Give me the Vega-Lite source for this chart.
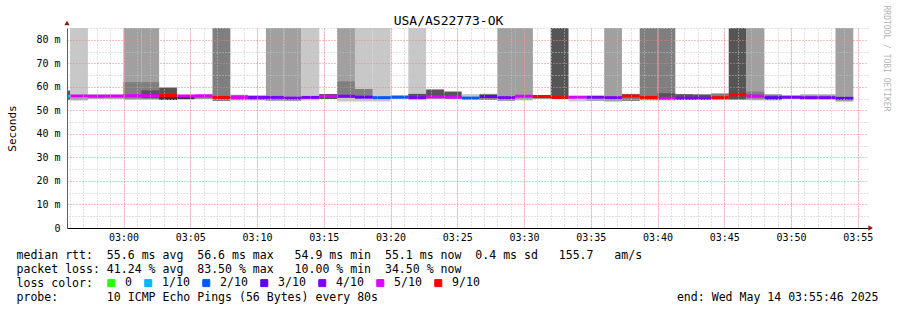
{
  "$schema": "https://vega.github.io/schema/vega-lite/v6.json",
  "width": 801,
  "height": 200,
  "autosize": {"type": "none"},
  "padding": {"left": 67, "top": 28, "right": 29, "bottom": 82},
  "background": "white",
  "config": {"view": {"stroke": null}},
  "datasets": {
    "steps": [
      {"t0":"2025-05-14T02:54:40","t1":"2025-05-14T02:56:00","med":56.0,"loss":"1/10"},
      {"t0":"2025-05-14T02:56:00","t1":"2025-05-14T02:57:20","med":56.1,"loss":"5/10"},
      {"t0":"2025-05-14T02:57:20","t1":"2025-05-14T02:58:40","med":56.0,"loss":"5/10"},
      {"t0":"2025-05-14T02:58:40","t1":"2025-05-14T03:00:00","med":56.1,"loss":"5/10"},
      {"t0":"2025-05-14T03:00:00","t1":"2025-05-14T03:01:20","med":56.2,"loss":"5/10"},
      {"t0":"2025-05-14T03:01:20","t1":"2025-05-14T03:02:40","med":56.2,"loss":"5/10"},
      {"t0":"2025-05-14T03:02:40","t1":"2025-05-14T03:04:00","med":56.3,"loss":"9/10"},
      {"t0":"2025-05-14T03:04:00","t1":"2025-05-14T03:05:20","med":56.1,"loss":"5/10"},
      {"t0":"2025-05-14T03:05:20","t1":"2025-05-14T03:06:40","med":56.2,"loss":"5/10"},
      {"t0":"2025-05-14T03:06:40","t1":"2025-05-14T03:08:00","med":55.5,"loss":"9/10"},
      {"t0":"2025-05-14T03:08:00","t1":"2025-05-14T03:09:20","med":55.5,"loss":"5/10"},
      {"t0":"2025-05-14T03:09:20","t1":"2025-05-14T03:10:40","med":55.5,"loss":"4/10"},
      {"t0":"2025-05-14T03:10:40","t1":"2025-05-14T03:12:00","med":55.5,"loss":"4/10"},
      {"t0":"2025-05-14T03:12:00","t1":"2025-05-14T03:13:20","med":55.2,"loss":"4/10"},
      {"t0":"2025-05-14T03:13:20","t1":"2025-05-14T03:14:40","med":55.5,"loss":"4/10"},
      {"t0":"2025-05-14T03:14:40","t1":"2025-05-14T03:16:00","med":56.0,"loss":"5/10"},
      {"t0":"2025-05-14T03:16:00","t1":"2025-05-14T03:17:20","med":56.0,"loss":"4/10"},
      {"t0":"2025-05-14T03:17:20","t1":"2025-05-14T03:18:40","med":55.6,"loss":"3/10"},
      {"t0":"2025-05-14T03:18:40","t1":"2025-05-14T03:20:00","med":55.4,"loss":"2/10"},
      {"t0":"2025-05-14T03:20:00","t1":"2025-05-14T03:21:20","med":55.6,"loss":"2/10"},
      {"t0":"2025-05-14T03:21:20","t1":"2025-05-14T03:22:40","med":55.4,"loss":"4/10"},
      {"t0":"2025-05-14T03:22:40","t1":"2025-05-14T03:24:00","med":55.8,"loss":"5/10"},
      {"t0":"2025-05-14T03:24:00","t1":"2025-05-14T03:25:20","med":55.6,"loss":"5/10"},
      {"t0":"2025-05-14T03:25:20","t1":"2025-05-14T03:26:40","med":55.2,"loss":"2/10"},
      {"t0":"2025-05-14T03:26:40","t1":"2025-05-14T03:28:00","med":55.9,"loss":"3/10"},
      {"t0":"2025-05-14T03:28:00","t1":"2025-05-14T03:29:20","med":55.4,"loss":"4/10"},
      {"t0":"2025-05-14T03:29:20","t1":"2025-05-14T03:30:40","med":56.0,"loss":"5/10"},
      {"t0":"2025-05-14T03:30:40","t1":"2025-05-14T03:32:00","med":55.9,"loss":"9/10"},
      {"t0":"2025-05-14T03:32:00","t1":"2025-05-14T03:33:20","med":55.5,"loss":"9/10"},
      {"t0":"2025-05-14T03:33:20","t1":"2025-05-14T03:34:40","med":55.6,"loss":"5/10"},
      {"t0":"2025-05-14T03:34:40","t1":"2025-05-14T03:36:00","med":55.6,"loss":"4/10"},
      {"t0":"2025-05-14T03:36:00","t1":"2025-05-14T03:37:20","med":55.4,"loss":"4/10"},
      {"t0":"2025-05-14T03:37:20","t1":"2025-05-14T03:38:40","med":56.1,"loss":"9/10"},
      {"t0":"2025-05-14T03:38:40","t1":"2025-05-14T03:40:00","med":55.5,"loss":"9/10"},
      {"t0":"2025-05-14T03:40:00","t1":"2025-05-14T03:41:20","med":55.1,"loss":"5/10"},
      {"t0":"2025-05-14T03:41:20","t1":"2025-05-14T03:42:40","med":55.2,"loss":"4/10"},
      {"t0":"2025-05-14T03:42:40","t1":"2025-05-14T03:44:00","med":55.2,"loss":"4/10"},
      {"t0":"2025-05-14T03:44:00","t1":"2025-05-14T03:45:20","med":55.4,"loss":"9/10"},
      {"t0":"2025-05-14T03:45:20","t1":"2025-05-14T03:46:40","med":56.6,"loss":"9/10"},
      {"t0":"2025-05-14T03:46:40","t1":"2025-05-14T03:48:00","med":56.1,"loss":"5/10"},
      {"t0":"2025-05-14T03:48:00","t1":"2025-05-14T03:49:20","med":55.4,"loss":"3/10"},
      {"t0":"2025-05-14T03:49:20","t1":"2025-05-14T03:50:40","med":55.6,"loss":"4/10"},
      {"t0":"2025-05-14T03:50:40","t1":"2025-05-14T03:52:00","med":55.4,"loss":"4/10"},
      {"t0":"2025-05-14T03:52:00","t1":"2025-05-14T03:53:20","med":55.4,"loss":"4/10"},
      {"t0":"2025-05-14T03:53:20","t1":"2025-05-14T03:54:40","med":55.1,"loss":"3/10"}
    ],
    "smoke": [
      {"t0":"2025-05-14T02:54:40","t1":"2025-05-14T02:56:00","lo":54.5,"hi":58.4,"lvl":"4"},
      {"t0":"2025-05-14T02:56:00","t1":"2025-05-14T02:57:20","lo":54.3,"hi":85,"lvl":"1"},
      {"t0":"2025-05-14T02:56:00","t1":"2025-05-14T02:57:20","lo":54.3,"hi":55.3,"lvl":"2"},
      {"t0":"2025-05-14T02:57:20","t1":"2025-05-14T02:58:40","lo":54.9,"hi":56.8,"lvl":"2"},
      {"t0":"2025-05-14T02:58:40","t1":"2025-05-14T03:00:00","lo":54.9,"hi":56.6,"lvl":"2"},
      {"t0":"2025-05-14T03:00:00","t1":"2025-05-14T03:01:20","lo":54.5,"hi":85,"lvl":"2"},
      {"t0":"2025-05-14T03:00:00","t1":"2025-05-14T03:01:20","lo":55.0,"hi":62.0,"lvl":"3"},
      {"t0":"2025-05-14T03:01:20","t1":"2025-05-14T03:02:40","lo":54.5,"hi":85,"lvl":"2"},
      {"t0":"2025-05-14T03:01:20","t1":"2025-05-14T03:02:40","lo":55.0,"hi":62.0,"lvl":"3"},
      {"t0":"2025-05-14T03:01:20","t1":"2025-05-14T03:02:40","lo":55.2,"hi":58.5,"lvl":"4"},
      {"t0":"2025-05-14T03:02:40","t1":"2025-05-14T03:04:00","lo":54.4,"hi":59.7,"lvl":"4"},
      {"t0":"2025-05-14T03:02:40","t1":"2025-05-14T03:04:00","lo":54.4,"hi":55.6,"lvl":"5"},
      {"t0":"2025-05-14T03:04:00","t1":"2025-05-14T03:05:20","lo":54.7,"hi":56.4,"lvl":"5"},
      {"t0":"2025-05-14T03:05:20","t1":"2025-05-14T03:06:40","lo":54.9,"hi":56.5,"lvl":"3"},
      {"t0":"2025-05-14T03:06:40","t1":"2025-05-14T03:08:00","lo":54.0,"hi":85,"lvl":"3"},
      {"t0":"2025-05-14T03:08:00","t1":"2025-05-14T03:09:20","lo":54.3,"hi":56.6,"lvl":"3"},
      {"t0":"2025-05-14T03:09:20","t1":"2025-05-14T03:10:40","lo":54.3,"hi":56.3,"lvl":"3"},
      {"t0":"2025-05-14T03:10:40","t1":"2025-05-14T03:12:00","lo":54.2,"hi":85,"lvl":"2"},
      {"t0":"2025-05-14T03:10:40","t1":"2025-05-14T03:12:00","lo":54.2,"hi":55.0,"lvl":"3"},
      {"t0":"2025-05-14T03:12:00","t1":"2025-05-14T03:13:20","lo":54.0,"hi":85,"lvl":"2"},
      {"t0":"2025-05-14T03:13:20","t1":"2025-05-14T03:14:40","lo":54.2,"hi":85,"lvl":"1"},
      {"t0":"2025-05-14T03:14:40","t1":"2025-05-14T03:16:00","lo":54.8,"hi":57.0,"lvl":"4"},
      {"t0":"2025-05-14T03:16:00","t1":"2025-05-14T03:17:20","lo":53.8,"hi":85,"lvl":"1"},
      {"t0":"2025-05-14T03:16:00","t1":"2025-05-14T03:17:20","lo":55.3,"hi":85,"lvl":"2"},
      {"t0":"2025-05-14T03:16:00","t1":"2025-05-14T03:17:20","lo":55.3,"hi":62.3,"lvl":"3"},
      {"t0":"2025-05-14T03:17:20","t1":"2025-05-14T03:18:40","lo":53.8,"hi":85,"lvl":"1"},
      {"t0":"2025-05-14T03:17:20","t1":"2025-05-14T03:18:40","lo":55.3,"hi":59.1,"lvl":"3"},
      {"t0":"2025-05-14T03:18:40","t1":"2025-05-14T03:20:00","lo":53.8,"hi":85,"lvl":"1"},
      {"t0":"2025-05-14T03:20:00","t1":"2025-05-14T03:21:20","lo":55.0,"hi":56.3,"lvl":"2"},
      {"t0":"2025-05-14T03:21:20","t1":"2025-05-14T03:22:40","lo":54.3,"hi":85,"lvl":"1"},
      {"t0":"2025-05-14T03:21:20","t1":"2025-05-14T03:22:40","lo":55.5,"hi":57.0,"lvl":"4"},
      {"t0":"2025-05-14T03:22:40","t1":"2025-05-14T03:24:00","lo":55.0,"hi":58.9,"lvl":"4"},
      {"t0":"2025-05-14T03:24:00","t1":"2025-05-14T03:25:20","lo":55.0,"hi":58.0,"lvl":"4"},
      {"t0":"2025-05-14T03:25:20","t1":"2025-05-14T03:26:40","lo":54.5,"hi":56.9,"lvl":"1"},
      {"t0":"2025-05-14T03:26:40","t1":"2025-05-14T03:28:00","lo":54.4,"hi":57.0,"lvl":"3"},
      {"t0":"2025-05-14T03:28:00","t1":"2025-05-14T03:29:20","lo":54.0,"hi":85,"lvl":"2"},
      {"t0":"2025-05-14T03:29:20","t1":"2025-05-14T03:30:40","lo":54.3,"hi":85,"lvl":"2"},
      {"t0":"2025-05-14T03:30:40","t1":"2025-05-14T03:32:00","lo":55.0,"hi":56.3,"lvl":"4"},
      {"t0":"2025-05-14T03:32:00","t1":"2025-05-14T03:33:20","lo":54.8,"hi":85,"lvl":"4"},
      {"t0":"2025-05-14T03:33:20","t1":"2025-05-14T03:34:40","lo":53.8,"hi":56.0,"lvl":"1"},
      {"t0":"2025-05-14T03:34:40","t1":"2025-05-14T03:36:00","lo":54.0,"hi":56.0,"lvl":"2"},
      {"t0":"2025-05-14T03:36:00","t1":"2025-05-14T03:37:20","lo":53.8,"hi":85,"lvl":"2"},
      {"t0":"2025-05-14T03:37:20","t1":"2025-05-14T03:38:40","lo":54.0,"hi":57.0,"lvl":"3"},
      {"t0":"2025-05-14T03:38:40","t1":"2025-05-14T03:40:00","lo":54.3,"hi":85,"lvl":"3"},
      {"t0":"2025-05-14T03:40:00","t1":"2025-05-14T03:41:20","lo":54.3,"hi":85,"lvl":"3"},
      {"t0":"2025-05-14T03:40:00","t1":"2025-05-14T03:41:20","lo":55.5,"hi":57.3,"lvl":"4"},
      {"t0":"2025-05-14T03:41:20","t1":"2025-05-14T03:42:40","lo":54.5,"hi":56.9,"lvl":"4"},
      {"t0":"2025-05-14T03:42:40","t1":"2025-05-14T03:44:00","lo":54.5,"hi":56.8,"lvl":"4"},
      {"t0":"2025-05-14T03:44:00","t1":"2025-05-14T03:45:20","lo":54.5,"hi":57.2,"lvl":"3"},
      {"t0":"2025-05-14T03:45:20","t1":"2025-05-14T03:46:40","lo":54.5,"hi":85,"lvl":"4"},
      {"t0":"2025-05-14T03:46:40","t1":"2025-05-14T03:48:00","lo":54.3,"hi":85,"lvl":"2"},
      {"t0":"2025-05-14T03:46:40","t1":"2025-05-14T03:48:00","lo":55.0,"hi":58.0,"lvl":"3"},
      {"t0":"2025-05-14T03:48:00","t1":"2025-05-14T03:49:20","lo":54.3,"hi":56.8,"lvl":"3"},
      {"t0":"2025-05-14T03:49:20","t1":"2025-05-14T03:50:40","lo":55.0,"hi":56.2,"lvl":"3"},
      {"t0":"2025-05-14T03:50:40","t1":"2025-05-14T03:52:00","lo":54.6,"hi":56.8,"lvl":"2"},
      {"t0":"2025-05-14T03:52:00","t1":"2025-05-14T03:53:20","lo":54.6,"hi":56.8,"lvl":"2"},
      {"t0":"2025-05-14T03:53:20","t1":"2025-05-14T03:54:40","lo":53.8,"hi":85,"lvl":"2"}
    ]
  },
  "layer": [
    {
      "data": {"name": "smoke"},
      "mark": {"type": "rect", "clip": true},
      "encoding": {
        "x": {
          "field": "t0", "type": "temporal",
          "scale": {"type": "time", "domain": [{"year": 2025, "month": 5, "date": 14, "hours": 2, "minutes": 55, "seconds": 46}, {"year": 2025, "month": 5, "date": 14, "hours": 3, "minutes": 55, "seconds": 46}]},
          "axis": {
            "orient": "bottom", "tickCount": 12, "format": "%H:%M",
            "labelFont": "DejaVu Sans Mono", "labelFontSize": 10, "labelColor": "#000000", "labelPadding": 4, "labelBaseline": "top", "labelFlush": false, "labelOverlap": false,
            "ticks": false, "domain": true, "domainColor": "#000000",
            "grid": true, "gridColor": "#f08080", "gridDash": [1, 2], "zindex": 2,
            "title": [
              "median rtt:\u00a0\u00a055.6 ms avg\u00a0\u00a056.6 ms max\u00a0\u00a0\u00a054.9 ms min\u00a0\u00a055.1 ms now\u00a0\u00a00.4 ms sd\u00a0\u00a0\u00a0155.7\u00a0\u00a0\u00a0am/s",
              "packet loss: 41.24 % avg\u00a0\u00a083.50 % max\u00a0\u00a0\u00a010.00 % min\u00a0\u00a034.50 % now",
              "loss color:",
              "probe:\u00a0\u00a0\u00a0\u00a0\u00a0\u00a0\u00a010 ICMP Echo Pings (56 Bytes) every 80s\u00a0\u00a0\u00a0\u00a0\u00a0\u00a0\u00a0\u00a0\u00a0\u00a0\u00a0\u00a0\u00a0\u00a0\u00a0\u00a0\u00a0\u00a0\u00a0\u00a0\u00a0\u00a0\u00a0\u00a0\u00a0\u00a0\u00a0\u00a0\u00a0\u00a0\u00a0\u00a0\u00a0\u00a0\u00a0\u00a0\u00a0\u00a0\u00a0\u00a0\u00a0\u00a0\u00a0end: Wed May 14 03:55:46 2025"
            ],
            "titleFont": "DejaVu Sans Mono", "titleFontSize": 11.56, "titleFontWeight": "normal", "titleColor": "#000000",
            "titleAlign": "left", "titleBaseline": "alphabetic", "titleX": -51, "titleY": 30.5, "titleLineHeight": 14
          }
        },
        "x2": {"field": "t1"},
        "y": {
          "field": "lo", "type": "quantitative",
          "scale": {"domain": [0, 85], "nice": false},
          "axis": {
            "orient": "left", "values": [0, 10, 20, 30, 40, 50, 60, 70, 80],
            "labelExpr": "datum.value == 0 ? '0\u00a0\u00a0' : datum.value + ' m'",
            "labelFont": "DejaVu Sans Mono", "labelFontSize": 10, "labelColor": "#000000", "labelPadding": 7, "labelBaseline": "middle", "labelOverlap": false,
            "ticks": false, "domain": true, "domainColor": "#606060",
            "grid": true, "gridColor": "#f08080", "gridDash": [1, 2], "zindex": 2,
            "title": "Seconds", "titleFont": "DejaVu Sans Mono", "titleFontSize": 11, "titleFontWeight": "normal", "titleColor": "#000000",
            "titleAngle": -90, "titleAlign": "center", "titleBaseline": "alphabetic", "titleX": -52, "titleY": 100
          }
        },
        "y2": {"field": "hi"},
        "fill": {
          "field": "lvl", "type": "nominal",
          "scale": {"domain": ["1", "2", "3", "4", "5"], "range": ["#c8c8c8", "#a0a0a0", "#7f7f7f", "#555555", "#333333"]},
          "legend": null
        }
      }
    },
    {
      "data": {"name": "steps"},
      "mark": {"type": "rule", "strokeWidth": 3, "clip": true},
      "encoding": {
        "x": {
          "field": "t0", "type": "temporal",
          "axis": {
            "orient": "top", "tickCount": 60, "labels": false, "ticks": false, "domain": false,
            "grid": true, "gridColor": "#c4c4c4", "gridDash": [1, 2], "zindex": 1,
            "title": "USA/AS22773-OK", "titleFont": "DejaVu Sans Mono", "titleFontSize": 13, "titleFontWeight": "normal", "titleColor": "#000000",
            "titleAlign": "center", "titleBaseline": "alphabetic", "titleX": 381, "titleY": -3.5
          }
        },
        "x2": {"field": "t1"},
        "y": {
          "field": "med", "type": "quantitative",
          "axis": {
            "orient": "right", "values": [5, 15, 25, 35, 45, 55, 65, 75, 85], "labels": false, "ticks": false, "domain": false,
            "grid": true, "gridColor": "#c4c4c4", "gridDash": [1, 2], "zindex": 1,
            "title": "RRDTOOL / TOBI OETIKER", "titleFont": "DejaVu Sans Mono", "titleFontSize": 8, "titleFontWeight": "normal", "titleColor": "#b4b4b4",
            "titleAngle": 90, "titleAlign": "left", "titleBaseline": "alphabetic", "titleX": 15.5, "titleY": -23
          }
        },
        "stroke": {
          "field": "loss", "type": "nominal",
          "scale": {"domain": ["0", "1/10", "2/10", "3/10", "4/10", "5/10", "9/10"], "range": ["#26ff00", "#00b8ff", "#0059ff", "#5e00ff", "#7e00ff", "#dd00ff", "#ff0000"]},
          "legend": {
            "orient": "none", "legendX": 38.5, "legendY": 249, "direction": "horizontal", "title": null, "padding": 0,
            "symbolType": "square", "symbolSize": 49, "symbolStrokeWidth": 1,
            "labelFont": "DejaVu Sans Mono", "labelFontSize": 11.56, "labelColor": "#000000", "labelOffset": 8, "columnPadding": 10,
            "encode": {"symbols": {"update": {"fill": {"scale": "stroke", "field": "value"}, "fillOpacity": {"value": 1}, "stroke": {"value": "#000000"}, "strokeWidth": {"value": 1}, "opacity": {"value": 1}}}}
          }
        }
      }
    },
    {
      "data": {"values": [{}]},
      "mark": {"type": "point", "shape": "triangle-up", "filled": true, "size": 28, "color": "#8b1a1a", "opacity": 1},
      "encoding": {
        "x": {"datum": {"year": 2025, "month": 5, "date": 14, "hours": 2, "minutes": 55, "seconds": 46}, "type": "temporal", "axis": null},
        "y": {"datum": 87.1, "type": "quantitative", "axis": null}
      }
    },
    {
      "data": {"values": [{}]},
      "mark": {"type": "point", "shape": "triangle-right", "filled": true, "size": 28, "color": "#8b1a1a", "opacity": 1},
      "encoding": {
        "x": {"datum": {"year": 2025, "month": 5, "date": 14, "hours": 3, "minutes": 55, "seconds": 58}, "type": "temporal", "axis": null},
        "y": {"datum": 0, "type": "quantitative", "axis": null}
      }
    }
  ],
  "resolve": {"axis": {"x": "independent", "y": "independent"}}
}
